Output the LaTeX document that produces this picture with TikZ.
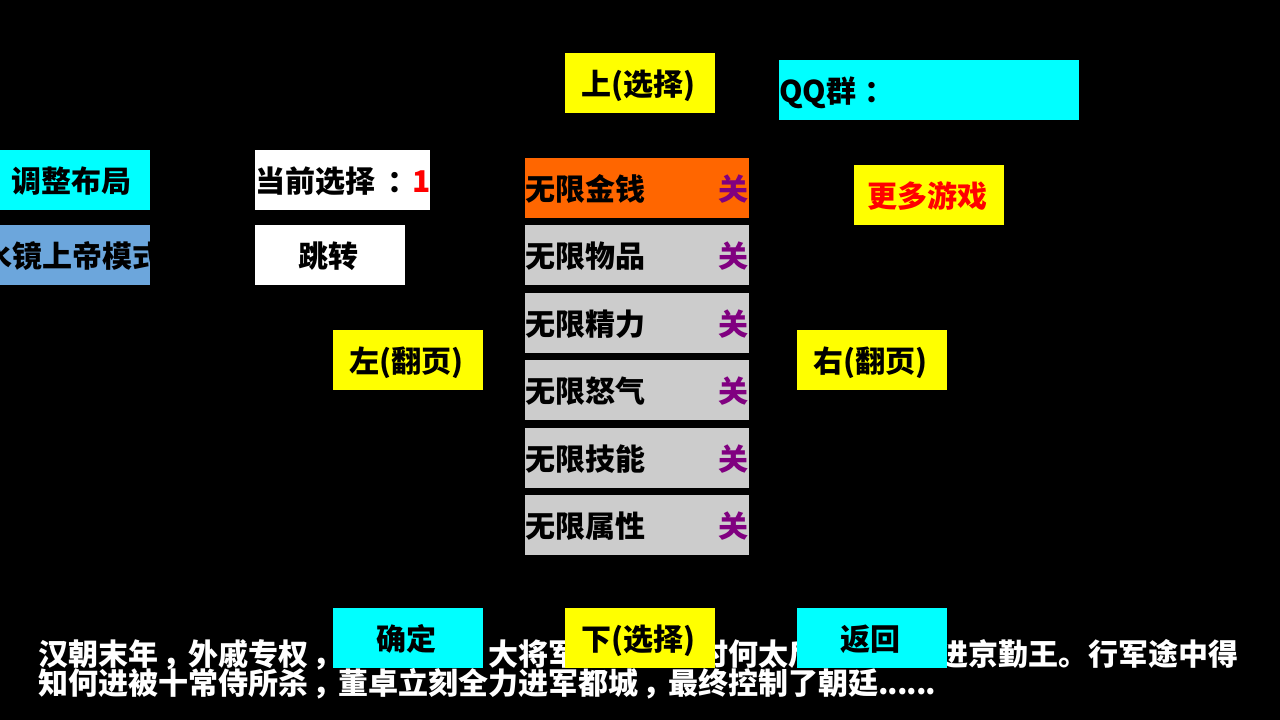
\documentclass[tikz,border=0pt]{standalone}
\usepackage{fontspec}
\setmainfont{Noto Sans CJK SC}
\newcommand{\cma}{\makebox[30pt][l]{\kern 5pt ，}}
\newcommand{\cln}[2]{\makebox[#1pt][l]{\kern #2pt ：}}
\newcommand{\dotsix}{.\kern-1pt.\kern-1pt.\kern-1pt.\kern-1pt.\kern-1pt.}
\definecolor{cy}{HTML}{00FFFF}
\definecolor{ye}{HTML}{FFFF00}
\definecolor{og}{HTML}{FF6600}
\definecolor{gy}{HTML}{CCCCCC}
\definecolor{bl}{HTML}{6CA6DC}
\definecolor{pu}{HTML}{800080}
\tikzset{
  base/.style={rectangle,inner sep=0pt,outer sep=0pt,font=\fontsize{30pt}{30pt}\selectfont\bfseries,text=black},
  btn/.style={base,anchor=north west,minimum height=60pt,minimum width=150pt,text height=27pt,text depth=3pt,execute at end node={\kern 4pt}},
  rowbox/.style={btn,fill=gy,minimum width=224pt},
  lbl/.style={base,anchor=west,text height=27pt,text depth=3pt},
  story/.style={lbl,text=white}
}
\begin{document}
\begin{tikzpicture}[x=1pt,y=-1pt]
\useasboundingbox (0,0) rectangle (1280,720);
\fill[black] (0,0) rectangle (1280,720);
% story text lies beneath the bottom buttons
\node[story] (s1a) at (38,653) {汉朝末年\cma 外戚专权\cma};
\node[story] (s1b) at (488,653) {大将军};
\node[story] (s1c) at (698,653) {时何太后};
\node[story] (s1d) at (938,653) {进京勤王。行军途中得};
\node[story] (s2) at (38,682) {知何进被十常侍所杀\cma 董卓立刻全力进军都城\cma 最终控制了朝廷\dotsix};
% top
\node[btn,fill=ye] (up) at (565,53) {上(选择)};
\node[btn,fill=cy,minimum width=300pt] (qq) at (779,60) {};
\node[lbl] (qqt) at (qq.west) {QQ群\cln{30}{8}};
% left column
\node[btn,fill=cy,minimum width=153pt] (adj) at (-3,150) {调整布局};
\node[btn,fill=bl] (god) at (0,225) {};
\begin{scope}
\clip (god.north west) rectangle (god.south east);
\node[base,text height=27pt,text depth=3pt] (godt) at (73,255) {水镜上帝模式};
\end{scope}
\node[btn,fill=white,minimum width=175pt] (cur) at (255,150) {};
\node[lbl] (curt) at (cur.west) {当前选择\cln{37}{13}\textcolor{red}{1}};
\node[btn,fill=white] (jump) at (255,225) {跳转};
\node[btn,fill=ye] (lf) at (333,330) {左(翻页)};
\node[btn,fill=ye] (rt) at (797,330) {右(翻页)};
\node[btn,fill=ye,text=red] (more) at (854,165) {更多游戏};
% list rows
\foreach \n/\y/\t/\c in {r1/158/无限金钱/og,r2/225/无限物品/gy,r3/293/无限精力/gy,r4/360/无限怒气/gy,r5/428/无限技能/gy,r6/495/无限属性/gy}{
  \node[rowbox,fill=\c] (\n) at (525,\y) {};
  \node[lbl] (\n t) at (\n.west) {\t};
  \node[lbl,anchor=east,text=pu,xshift=-1pt] (\n s) at (\n.east) {关};
}
% bottom
\node[btn,fill=cy] (ok) at (333,608) {确定};
\node[btn,fill=ye] (down) at (565,608) {下(选择)};
\node[btn,fill=cy] (back) at (797,608) {返回};
\end{tikzpicture}
\end{document}
